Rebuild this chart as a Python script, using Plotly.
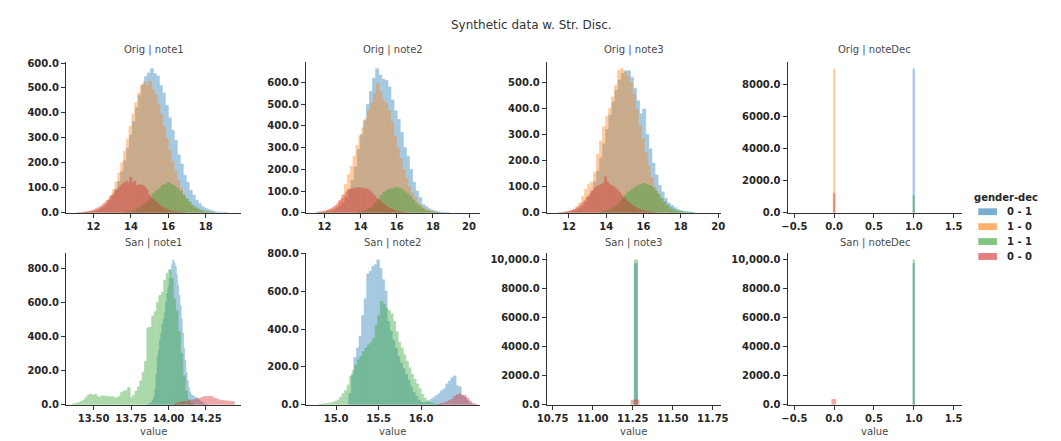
import plotly.graph_objects as go

# ---------------- data ----------------
series_names = ["0 - 1", "1 - 0", "1 - 1", "0 - 0"]
series_colors = ["#1f77b4", "#ff7f0e", "#2ca02c", "#d62728"]
legend_title = "gender-dec"

panel_titles = ["Orig | note1", "Orig | note2", "Orig | note3", "Orig | noteDec",
                "San | note1", "San | note2", "San | note3", "San | noteDec"]

# each series: left edge of first bin, bin width, counts per bin
# order of series: 0 - 1, 1 - 0, 1 - 1, 0 - 0
orig_note1_start = [11.2, 11.05, 13.7, 11.4]
orig_note1_width = [0.16, 0.15, 0.16, 0.11]
orig_note1_01 = [0, 1, 1, 2, 4, 6, 10, 15, 23, 34, 49, 68, 94, 125, 164, 208, 258, 311, 366, 421,
                 470, 513, 545, 560, 577, 558, 548, 510, 480, 430, 380, 330, 290, 232, 195, 150, 122, 90, 70, 50,
                 37, 25, 18, 12, 8, 5, 3, 2, 1, 1]
orig_note1_10 = [0, 0, 1, 1, 2, 4, 6, 10, 16, 23, 34, 49, 68, 93, 123, 159, 200, 247, 296, 347,
                 396, 441, 480, 508, 525, 510, 528, 495, 473, 436, 393, 346, 297, 250, 206, 166, 130, 100, 75, 55,
                 40, 28, 19, 13, 8, 5, 3, 2, 1]
orig_note1_11 = [2, 4, 7, 11, 17, 24, 34, 46, 59, 78, 88, 96, 110, 113, 121, 112, 106, 97, 86, 68,
                 55, 44, 30, 22, 15, 10, 6, 4, 2, 1]
orig_note1_00 = [2, 3, 5, 6, 8, 11, 15, 19, 24, 29, 36, 43, 51, 60, 70, 79, 89, 98, 107, 114,
                 121, 126, 118, 142, 120, 127, 108, 110, 112, 108, 104, 92, 72, 63, 54, 45, 38, 31, 25, 20,
                 16, 12, 9, 7, 5, 4, 3, 2, 1, 1]

orig_note2_start = [11.6, 11.5, 13.8, 11.6]
orig_note2_width = [0.17, 0.16, 0.16, 0.12]
orig_note2_01 = [1, 1, 3, 5, 7, 11, 18, 30, 45, 70, 105, 150, 210, 290, 360, 425, 500, 560, 620, 664,
                 635, 615, 610, 580, 520, 470, 430, 370, 300, 260, 200, 140, 100, 70, 38, 28, 18, 12, 7, 4,
                 3, 1, 1]
orig_note2_10 = [1, 2, 4, 6, 10, 15, 22, 32, 55, 82, 130, 175, 215, 262, 310, 355, 392, 432, 470, 505,
                 548, 595, 560, 518, 505, 470, 420, 355, 300, 250, 200, 160, 120, 90, 68, 45, 32, 22, 13, 8,
                 5, 3, 1]
orig_note2_11 = [3, 5, 8, 13, 20, 30, 45, 62, 80, 95, 104, 108, 110, 117, 113, 108, 98, 88, 75, 58,
                 42, 32, 20, 12, 8, 5, 3, 1]
orig_note2_00 = [2, 4, 5, 7, 10, 14, 19, 25, 32, 43, 55, 67, 82, 96, 106, 110, 112, 114, 115, 116,
                 114, 112, 110, 106, 98, 88, 78, 66, 58, 48, 40, 32, 25, 20, 15, 11, 8, 6, 4, 2, 1]

orig_note3_start = [11.5, 11.4, 13.7, 11.7]
orig_note3_width = [0.165, 0.16, 0.16, 0.11]
orig_note3_01 = [1, 1, 2, 4, 6, 10, 16, 26, 40, 60, 85, 118, 160, 210, 265, 320, 375, 425, 470, 510,
                 535, 545, 545, 520, 478, 430, 380, 398, 300, 245, 190, 145, 105, 80, 55, 37, 28, 19, 12, 7,
                 5, 3, 2, 1]
orig_note3_10 = [1, 1, 2, 4, 7, 12, 22, 38, 62, 90, 110, 118, 155, 225, 275, 330, 370, 400, 445, 490,
                 548, 553, 540, 525, 500, 455, 395, 335, 285, 230, 180, 135, 98, 75, 55, 40, 25, 12, 7, 4,
                 2, 1]
orig_note3_11 = [3, 6, 9, 14, 20, 28, 40, 55, 68, 80, 88, 96, 103, 108, 112, 108, 104, 96, 85, 70,
                 55, 42, 30, 20, 14, 9, 6, 4, 2, 2, 1]
orig_note3_00 = [2, 3, 5, 7, 10, 13, 18, 24, 30, 38, 47, 57, 66, 75, 85, 95, 100, 104, 108, 112,
                 138, 118, 108, 104, 100, 94, 86, 78, 68, 58, 50, 42, 35, 29, 24, 19, 15, 11, 9, 7,
                 5, 4, 3, 2, 1]

orig_notedec_start = [0.99, -0.01, 0.99, -0.01]
orig_notedec_width = [0.02, 0.02, 0.02, 0.02]
orig_notedec_01 = [8970]
orig_notedec_10 = [8950]
orig_notedec_11 = [1070]
orig_notedec_00 = [1210]

san_note1_start = [13.86, 0.0, 13.36, 14.04]
san_note1_width = [0.008, 0.01, 0.016, 0.016]
san_note1_01 = [2, 4, 8, 15, 25, 45, 90, 180, 280, 320, 380, 420, 470, 500, 540, 600, 650, 690, 740, 790,
                820, 848, 830, 810, 760, 700, 640, 580, 500, 420, 330, 260, 190, 140, 100, 75, 60, 55, 50, 45,
                45, 38, 30, 25, 20, 15, 10, 6, 3, 1]
san_note1_10 = []
san_note1_11 = [5, 8, 12, 18, 25, 40, 55, 62, 55, 62, 48, 45, 52, 50, 50, 45, 48, 42, 40, 50,
                72, 80, 85, 100, 40, 55, 80, 105, 140, 190, 255, 450, 455, 520, 545, 600, 640, 660, 730, 770,
                790, 740, 620, 550, 430, 300, 170, 80, 30, 10]
san_note1_00 = [8, 12, 15, 18, 20, 22, 25, 28, 30, 35, 38, 42, 48, 48, 50, 48, 40, 35, 30, 25,
                25, 22, 22, 20, 18]

san_note2_start = [15.15, 0.0, 14.8, 16.2]
san_note2_width = [0.03, 0.03, 0.03, 0.03]
san_note2_01 = [60, 160, 250, 300, 360, 470, 560, 690, 705, 730, 740, 765, 720, 660, 600, 440, 390, 340, 300, 255,
                220, 190, 160, 130, 95, 65, 45, 25, 14, 10, 12, 20, 30, 40, 50, 60, 75, 85, 110, 125,
                143, 152, 100, 95, 50, 40, 25, 8, 3, 1]
san_note2_10 = []
san_note2_11 = [3, 4, 6, 8, 10, 12, 18, 25, 40, 58, 75, 105, 150, 180, 210, 238, 255, 282, 300, 316,
                330, 350, 420, 470, 545, 530, 510, 497, 480, 440, 385, 330, 300, 264, 230, 195, 160, 135, 110, 85,
                55, 35, 22, 12, 8, 4, 2, 1]
san_note2_00 = [3, 6, 10, 15, 22, 30, 45, 52, 57, 48, 50, 35, 20, 8, 3]

san_note3_start = [11.26, 11.26, 11.26, 11.24]
san_note3_width = [0.02, 0.02, 0.02, 0.05]
san_note3_01 = [9750]
san_note3_10 = []
san_note3_11 = [10000]
san_note3_00 = [330]

san_notedec_start = [0.99, -0.01, 0.99, -0.03]
san_notedec_width = [0.02, 0.02, 0.02, 0.05]
san_notedec_01 = [9750]
san_notedec_10 = []
san_notedec_11 = [10000]
san_notedec_00 = [370]

# axis ticks
x_ranges = [[10.53, 19.89], [10.97, 20.6], [10.81, 20.14], [-0.586, 1.601],
            [13.316, 14.484], [14.646, 16.69], [10.713, 11.80], [-0.586, 1.601]]
x_tickvals = [[12, 14, 16, 18], [12, 14, 16, 18, 20], [12, 14, 16, 18, 20], [-0.5, 0, 0.5, 1, 1.5],
              [13.5, 13.75, 14.0, 14.25], [15.0, 15.5, 16.0], [10.75, 11.0, 11.25, 11.5, 11.75],
              [-0.5, 0, 0.5, 1, 1.5]]
x_ticktext = [["12", "14", "16", "18"], ["12", "14", "16", "18", "20"], ["12", "14", "16", "18", "20"],
              ["\u22120.5", "0.0", "0.5", "1.0", "1.5"],
              ["13.50", "13.75", "14.00", "14.25"], ["15.0", "15.5", "16.0"],
              ["10.75", "11.00", "11.25", "11.50", "11.75"],
              ["\u22120.5", "0.0", "0.5", "1.0", "1.5"]]
y_tickvals = [[0, 100, 200, 300, 400, 500, 600], [0, 100, 200, 300, 400, 500, 600],
              [0, 100, 200, 300, 400, 500], [0, 2000, 4000, 6000, 8000],
              [0, 200, 400, 600, 800], [0, 200, 400, 600, 800],
              [0, 2000, 4000, 6000, 8000, 10000], [0, 2000, 4000, 6000, 8000, 10000]]
y_ticktext = [["0.0", "100.0", "200.0", "300.0", "400.0", "500.0", "600.0"],
              ["0.0", "100.0", "200.0", "300.0", "400.0", "500.0", "600.0"],
              ["0.0", "100.0", "200.0", "300.0", "400.0", "500.0"],
              ["0.0", "2000.0", "4000.0", "6000.0", "8000.0"],
              ["0.0", "200.0", "400.0", "600.0", "800.0"],
              ["0.0", "200.0", "400.0", "600.0", "800.0"],
              ["0.0", "2000.0", "4000.0", "6000.0", "8000.0", "10,000.0"],
              ["0.0", "2000.0", "4000.0", "6000.0", "8000.0", "10,000.0"]]

panel_starts = [orig_note1_start, orig_note2_start, orig_note3_start, orig_notedec_start,
                san_note1_start, san_note2_start, san_note3_start, san_notedec_start]
panel_widths = [orig_note1_width, orig_note2_width, orig_note3_width, orig_notedec_width,
                san_note1_width, san_note2_width, san_note3_width, san_notedec_width]
panel_counts = [
    [orig_note1_01, orig_note1_10, orig_note1_11, orig_note1_00],
    [orig_note2_01, orig_note2_10, orig_note2_11, orig_note2_00],
    [orig_note3_01, orig_note3_10, orig_note3_11, orig_note3_00],
    [orig_notedec_01, orig_notedec_10, orig_notedec_11, orig_notedec_00],
    [san_note1_01, san_note1_10, san_note1_11, san_note1_00],
    [san_note2_01, san_note2_10, san_note2_11, san_note2_00],
    [san_note3_01, san_note3_10, san_note3_11, san_note3_00],
    [san_notedec_01, san_notedec_10, san_notedec_11, san_notedec_00],
]

# ---------------- layout geometry (pixels) ----------------
W, H = 1061, 441
col_px = [(57, 235), (301, 478), (546, 723), (791, 968)]
row_px = [(58, 213), (254, 410)]
title_gap = [4, 2]

AXIS_COLOR = "#333333"
TICK_FONT = dict(family="DejaVu Sans", size=10, color="#262626", weight="bold")
LABEL_FONT = dict(family="DejaVu Sans", size=10, color="#4a4a4a")


def rgba(hex_color, a):
    h = hex_color.lstrip("#")
    return "rgba(%d,%d,%d,%s)" % (int(h[0:2], 16), int(h[2:4], 16), int(h[4:6], 16), a)


fig = go.Figure()
layout = dict(width=W, height=H, margin=dict(l=0, r=0, t=0, b=0),
              paper_bgcolor="white", plot_bgcolor="white", barmode="overlay",
              showlegend=False)
annotations = []
shapes = []

for p in range(8):
    r, c = divmod(p, 4)
    ax = str(p + 1) if p > 0 else ""
    x0, x1 = col_px[c]
    y0, y1 = row_px[r]
    ymax = 0
    for s in range(4):
        counts = panel_counts[p][s]
        if not counts:
            continue
        start = panel_starts[p][s]
        w = panel_widths[p][s]
        centers = [start + w * (k + 0.5) for k in range(len(counts))]
        ymax = max(ymax, max(counts))
        # group opacity on the trace: a thin same-colour outline closes anti-alias seams
        fig.add_trace(go.Bar(x=centers, y=counts, width=w, name=series_names[s],
                             marker=dict(color=series_colors[s],
                                         line=dict(color=series_colors[s], width=0.7)),
                             opacity=0.4, showlegend=False, hoverinfo="skip",
                             xaxis="x" + ax, yaxis="y" + ax))
    layout["xaxis" + ax] = dict(domain=[x0 / W, x1 / W], anchor="y" + ax, range=x_ranges[p],
                                tickmode="array", tickvals=x_tickvals[p], ticktext=x_ticktext[p],
                                showline=True, linecolor=AXIS_COLOR, linewidth=1,
                                ticks="outside", ticklen=4, tickwidth=1, tickcolor=AXIS_COLOR,
                                showgrid=False, zeroline=False, tickfont=TICK_FONT)
    layout["yaxis" + ax] = dict(domain=[1 - y1 / H, 1 - y0 / H], anchor="x" + ax,
                                range=[0, ymax * 1.05],
                                tickmode="array", tickvals=y_tickvals[p], ticktext=y_ticktext[p],
                                showline=True, linecolor=AXIS_COLOR, linewidth=1,
                                ticks="outside", ticklen=4, tickwidth=1, tickcolor=AXIS_COLOR,
                                showgrid=False, zeroline=False, tickfont=TICK_FONT)
    annotations.append(dict(text=panel_titles[p], xref="paper", yref="paper",
                            x=(x0 + x1) / 2 / W, y=1 - (y0 - title_gap[r]) / H, xanchor="center",
                            yanchor="bottom", showarrow=False, font=LABEL_FONT))
    if r == 1:
        annotations.append(dict(text="value", xref="paper", yref="paper",
                                x=(x0 + x1) / 2 / W, y=1 - 437 / H, xanchor="center",
                                yanchor="middle", showarrow=False, font=LABEL_FONT))

annotations.append(dict(text="Synthetic data w. Str. Disc.", xref="paper", yref="paper",
                        x=530 / W, y=1 - 20 / H, xanchor="center", yanchor="middle",
                        showarrow=False, font=dict(family="DejaVu Sans", size=12, color="#333333")))

# legend (drawn as patches + text, matching the compact matplotlib legend)
leg_title_y = 197
leg_row_y0 = 212
leg_row_dy = 15.3
annotations.append(dict(text=legend_title, xref="paper", yref="paper", x=979 / W,
                        y=1 - leg_title_y / H, xanchor="left", yanchor="middle",
                        showarrow=False, font=TICK_FONT))
for s in range(4):
    yc = leg_row_y0 + s * leg_row_dy
    shapes.append(dict(type="rect", xref="paper", yref="paper",
                       x0=985 / W, x1=1004 / W, y0=1 - (yc + 3.5) / H, y1=1 - (yc - 3.5) / H,
                       fillcolor=rgba(series_colors[s], 0.6), line=dict(width=0)))
    annotations.append(dict(text=series_names[s], xref="paper", yref="paper", x=1012 / W,
                            y=1 - yc / H, xanchor="left", yanchor="middle",
                            showarrow=False, font=TICK_FONT))

layout["annotations"] = annotations
layout["shapes"] = shapes
fig.update_layout(**layout)
fig.write_html("out.html")
